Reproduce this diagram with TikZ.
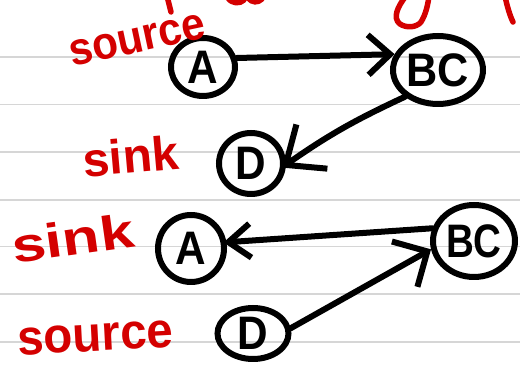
\documentclass[tikz,border=0pt]{standalone}
\usepackage{fontspec}
\setmainfont{Liberation Sans}
\usetikzlibrary{arrows.meta,shapes.geometric}
\definecolor{ink}{RGB}{212,0,0}
\definecolor{ruling}{RGB}{214,214,214}
\begin{document}
\begin{tikzpicture}[x=1pt,y=1pt,
  vertex/.style={draw, ellipse, line width=6pt, inner sep=0pt,
    font=\fontsize{47}{47}\selectfont\bfseries},
  conn/.style={line width=6pt, line cap=round, line join=round},
  lbl/.style={text=ink, anchor=base, inner sep=0pt},
  scrawl/.style={draw=ink, line width=5.5pt, line cap=round, line join=round}]
\useasboundingbox (0,0) rectangle (520,366);
\fill[white] (0,0) rectangle (520,366);

% ruled paper
\foreach \y in {309,261.5,214,166,119.5,72,24}
  \draw[ruling, line width=1.6pt] (0,\y) -- (520,\y);

% clipped handwriting along the top edge
\begin{scope}
\clip (0,0) rectangle (520,366);
\draw[scrawl] (167,370) -- (171,354);
\draw[scrawl] (228,368) .. controls (232,362) and (240,362) .. (244,366);
\draw[scrawl] (248,368) .. controls (252,363) and (258,363) .. (262,367);
\draw[scrawl] (406,370) .. controls (398,360) and (392,348) .. (400,342)
  .. controls (406,338) and (416,338) .. (421,344)
  .. controls (426,352) and (428,362) .. (429,370);
\draw[scrawl] (505,370) .. controls (507,360) and (510,350) .. (513,344);
\end{scope}

% upper graph
\node[vertex, minimum width=64pt, minimum height=58pt] (tA) at (203,299) {\makebox[0pt]{\scalebox{0.9}[1]{A}}};
\node[vertex, minimum width=90pt, minimum height=68pt] (tBC) at (438,296) {\makebox[0pt]{\scalebox{0.92}[1]{BC}}};
\node[vertex, minimum width=64pt, minimum height=61pt] (tD) at (251,202.5) {\makebox[0pt]{\scalebox{0.9}[1]{D}}};

\draw[conn, -{Straight Barb[length=22pt,width=40pt]}] (tA.15) -- (tBC.160);
\draw[conn, shorten >=-5pt, -{Straight Barb[length=32pt,width=54pt]}]
  (tBC.219) to[out=205,in=35] (tD.-2);

% lower graph
\node[vertex, minimum width=66pt, minimum height=67pt] (bA) at (191,117.5) {\makebox[0pt]{\scalebox{0.9}[1]{A}}};
\node[vertex, minimum width=82pt, minimum height=72pt] (bBC) at (474,125) {\makebox[0pt]{\scalebox{0.82}[1]{BC}}};
\node[vertex, minimum width=71pt, minimum height=51pt] (bD) at (253,32.5) {\makebox[0pt]{\scalebox{0.9}[1]{D}}};

\draw[conn, shorten >=-3pt, -{Straight Barb[length=22pt,width=34pt]}] (bBC.163) -- (bA.10);
\draw[conn, -{Straight Barb[length=26pt,width=52pt]}] (bD.8) -- (bBC.191);

% red labels
\node[lbl, rotate=12, font=\fontsize{46}{46}\selectfont\bfseries] (srcTop) at (140,314) {\scalebox{0.92}[1]{source}};
\node[lbl, rotate=5, font=\fontsize{48}{48}\selectfont\bfseries] (sinkTop) at (132,193) {sink};
\node[lbl, rotate=8, font=\fontsize{48}{48}\selectfont\bfseries] (sinkBot) at (75,111) {\scalebox{1.28}[1]{sink}};
\node[lbl, rotate=3, font=\fontsize{50}{50}\selectfont\bfseries] (srcBot) at (96,15) {\scalebox{0.95}[1]{source}};
\end{tikzpicture}
\end{document}
